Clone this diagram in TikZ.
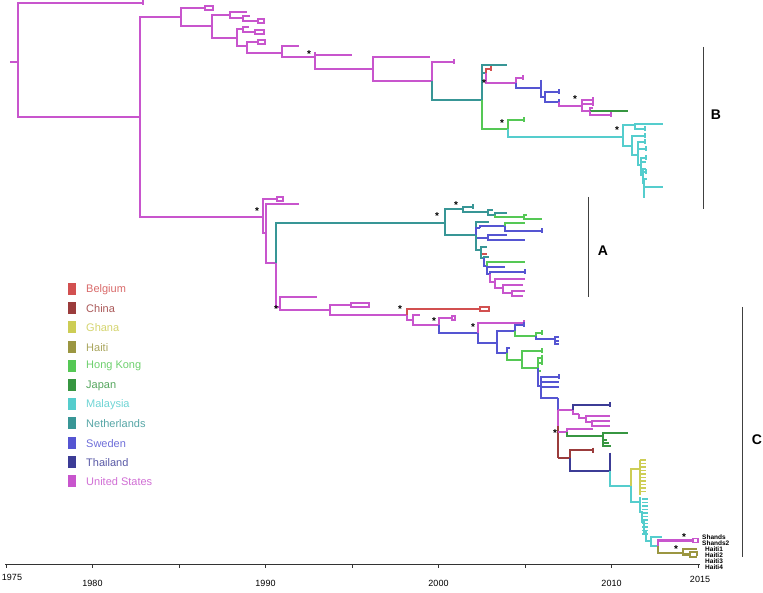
\documentclass[tikz,border=0pt]{standalone}
\usepackage{fontspec}
\setmainfont{Liberation Sans}
\definecolor{cUS}{RGB}{200,85,205}
\definecolor{cNL}{RGB}{56,150,150}
\definecolor{cSW}{RGB}{85,85,210}
\definecolor{cTH}{RGB}{60,60,150}
\definecolor{cHK}{RGB}{85,200,85}
\definecolor{cJP}{RGB}{55,150,65}
\definecolor{cMA}{RGB}{85,205,205}
\definecolor{cGH}{RGB}{205,205,85}
\definecolor{cHA}{RGB}{155,150,65}
\definecolor{cBE}{RGB}{210,80,80}
\definecolor{cCH}{RGB}{155,60,60}
\tikzset{tr/.style={line width=2.1pt},
  tk/.style={line width=1.4pt},
  star/.style={font=\bfseries\fontsize{10}{10}\selectfont,inner sep=0pt},
  bar/.style={line width=1pt,black!75},
  clade/.style={font=\bfseries\fontsize{14}{14}\selectfont,inner sep=0pt},
  lgt/.style={font=\fontsize{11}{13}\selectfont,anchor=west,inner sep=0pt},
  axl/.style={font=\fontsize{9}{10}\selectfont,inner sep=0pt},
  tipl/.style={font=\bfseries\fontsize{6.5}{6.5}\selectfont,anchor=west,inner sep=0pt}}
\newcommand\Br[5]{\draw[tr,#1] (#2,#3) |- (#4,#5);}
\newcommand\Tk[3]{\draw[tk,#1] (#2,#3-2.5) -- (#2,#3+2.5);}
\newcommand\Pair[4]{\draw[tk,#1] (#2,#3-2) rectangle ({#2+#4},#3+2);}
\begin{document}
\begin{tikzpicture}[x=1pt,y=-1pt]
\useasboundingbox (0,0) rectangle (763,593);
% root
\draw[tr,cUS] (10,62)--(18,62);
\Br{cUS}{18}{62}{143}{3} \Tk{cUS}{143}{3}
\Br{cUS}{18}{62}{140}{117}
\Br{cUS}{140}{117}{181}{17}
\Br{cUS}{140}{117}{263}{217}
% clade B
\Br{cUS}{181}{17}{205}{8} \Pair{cUS}{205}{8}{8}
\Br{cUS}{181}{17}{212}{26}
\Br{cUS}{212}{26}{230}{15}
\Br{cUS}{230}{15}{247}{12}
\Br{cUS}{230}{15}{243}{18}
\Br{cUS}{243}{18}{250}{16}
\Br{cUS}{243}{18}{258}{21} \Pair{cUS}{258}{21}{6}
\Br{cUS}{212}{26}{237}{38}
\Br{cUS}{237}{38}{243}{29}
\Br{cUS}{243}{29}{249}{27}
\Br{cUS}{243}{29}{255}{32} \Pair{cUS}{255}{32}{9}
\Br{cUS}{237}{38}{247}{46}
\Br{cUS}{247}{46}{258}{42} \Pair{cUS}{258}{42}{7}
\Br{cUS}{247}{46}{282}{53}
\Br{cUS}{282}{53}{299}{46}
\Br{cUS}{282}{53}{315}{57}
\draw[tr,cUS] (315,52)--(315,57);
\Br{cUS}{315}{57}{352}{55}
\Br{cUS}{315}{57}{373}{69}
\Br{cUS}{373}{69}{430}{57}
\Br{cUS}{373}{69}{432}{81}
\Br{cUS}{432}{81}{454}{62} \Tk{cUS}{454}{62}
\Br{cNL}{432}{81}{482}{100}
\Br{cNL}{482}{100}{507}{65}
\Br{cNL}{482}{100}{486}{73}
\Br{cBE}{486}{73}{491}{69} \Tk{cBE}{491}{69}
\Br{cUS}{486}{73}{516}{83}
\Br{cUS}{516}{83}{523}{78} \Tk{cUS}{523}{78}
\Br{cSW}{516}{83}{541}{88}
\draw[tr,cSW] (541,80)--(541,88);
\Br{cSW}{541}{88}{545}{97}
\Br{cSW}{545}{97}{559}{92} \Tk{cSW}{559}{92}
\Br{cSW}{545}{97}{559}{102} \Tk{cSW}{559}{102}
\Br{cUS}{559}{102}{582}{106}
\Br{cUS}{582}{106}{593}{100} \Tk{cUS}{593}{100}
\Br{cUS}{582}{106}{593}{104} \Tk{cUS}{593}{104}
\Br{cUS}{582}{106}{590}{111}
\Br{cUS}{590}{111}{593}{108}
\Br{cJP}{590}{111}{628}{111}
\Br{cUS}{590}{111}{611}{115} \Tk{cUS}{611}{115}
\Br{cHK}{482}{100}{508}{129}
\Br{cHK}{508}{129}{524}{120} \Tk{cHK}{524}{120}
\Br{cMA}{508}{129}{623}{137}
\Br{cMA}{623}{137}{635}{125}
\Br{cMA}{635}{125}{663}{124}
\Br{cMA}{635}{125}{645}{129} \Tk{cMA}{645}{129}
\Br{cMA}{623}{137}{632}{146}
\Br{cMA}{632}{146}{645}{136} \Tk{cMA}{645}{136}
\Br{cMA}{632}{146}{638}{155}
\Br{cMA}{638}{155}{645}{142} \Tk{cMA}{645}{142}
\Br{cMA}{638}{155}{646}{149} \Tk{cMA}{646}{149}
\Br{cMA}{638}{155}{641}{165}
\Br{cMA}{641}{165}{646}{158} \Tk{cMA}{646}{158}
\Br{cMA}{641}{165}{646}{162}
\Br{cMA}{641}{165}{643}{175}
\Br{cMA}{643}{175}{646}{169}
\Br{cMA}{643}{175}{646}{172} \Tk{cMA}{646}{172}
\Br{cMA}{643}{175}{644}{183}
\Br{cMA}{644}{183}{647}{179}
\Br{cMA}{644}{183}{663}{187}
\Br{cMA}{644}{183}{645}{197}
% clades A and C base
\Br{cUS}{263}{217}{277}{199} \Pair{cUS}{277}{199}{6}
\Br{cUS}{263}{217}{266}{233}
\Br{cUS}{266}{233}{299}{204}
\Br{cUS}{266}{233}{276}{263}
\Br{cNL}{276}{263}{445}{223}
\Br{cUS}{276}{263}{280}{307}
% clade A
\Br{cNL}{445}{223}{463}{209}
\Br{cNL}{463}{209}{473}{207} \Tk{cNL}{473}{207}
\Br{cNL}{463}{209}{488}{212}
\Br{cNL}{488}{212}{493}{210}
\Br{cNL}{488}{212}{495}{215}
\Br{cNL}{495}{215}{507}{213}
\Br{cHK}{495}{215}{524}{217}
\Br{cHK}{524}{217}{527}{215}
\Br{cHK}{524}{217}{542}{219}
\Br{cNL}{445}{223}{476}{235}
\Br{cNL}{476}{235}{489}{222}
\Br{cSW}{476}{235}{480}{228}
\Br{cSW}{480}{228}{505}{226}
\Br{cHK}{505}{226}{525}{223}
\Br{cSW}{505}{226}{542}{231} \Tk{cSW}{542}{231}
\Br{cSW}{476}{235}{488}{238}
\Br{cSW}{488}{238}{507}{235}
\Br{cSW}{488}{238}{525}{240}
\Br{cNL}{476}{235}{481}{250}
\Br{cNL}{481}{250}{487}{247}
\Br{cBE}{481}{250}{487}{254}
\Br{cNL}{481}{250}{484}{258}
\Br{cNL}{484}{258}{489}{257}
\Br{cSW}{484}{258}{487}{266}
\Br{cHK}{487}{266}{525}{262}
\Br{cSW}{487}{266}{505}{267}
\Br{cSW}{487}{266}{490}{274}
\Br{cSW}{490}{274}{525}{272} \Tk{cSW}{525}{272}
\Br{cUS}{490}{274}{495}{282}
\Br{cUS}{495}{282}{525}{279}
\Br{cUS}{495}{282}{503}{288}
\Br{cUS}{503}{288}{523}{285}
\Br{cUS}{503}{288}{512}{293}
\Br{cUS}{512}{293}{525}{291}
\Br{cUS}{512}{293}{523}{296}
% clade C
\Br{cUS}{280}{307}{317}{297}
\Br{cUS}{280}{307}{330}{310}
\Br{cUS}{330}{310}{351}{305} \Pair{cUS}{351}{305}{18}
\Br{cUS}{330}{310}{407}{315}
\Br{cBE}{407}{315}{480}{309} \Pair{cBE}{480}{309}{9}
\Br{cUS}{407}{315}{413}{320}
\Br{cUS}{413}{320}{420}{315}
\Br{cUS}{413}{320}{439}{325}
\Br{cUS}{439}{325}{452}{318} \Pair{cUS}{452}{318}{3}
\Br{cSW}{439}{325}{478}{333}
\Br{cUS}{478}{333}{524}{323} \Tk{cUS}{524}{323}
\Br{cSW}{478}{333}{497}{343}
\Br{cSW}{497}{343}{515}{331}
\Br{cSW}{515}{331}{524}{325} \Tk{cSW}{524}{325}
\Br{cHK}{515}{331}{536}{336}
\Br{cHK}{536}{336}{542}{333} \Tk{cHK}{542}{333}
\Br{cSW}{536}{336}{555}{339}
\Br{cSW}{555}{339}{559}{337}
\Br{cSW}{555}{339}{559}{341}
\Br{cSW}{555}{339}{559}{344}
\Br{cSW}{497}{343}{507}{353}
\Br{cSW}{507}{353}{510}{348}
\Br{cHK}{507}{353}{522}{360}
\Br{cHK}{522}{360}{542}{351} \Tk{cHK}{542}{351}
\Br{cHK}{522}{360}{538}{368}
\Br{cHK}{538}{368}{542}{358} \Tk{cHK}{542}{358}
\Br{cHK}{538}{368}{542}{363} \Tk{cHK}{542}{363}
\Br{cHK}{538}{368}{541}{371}
\Br{cSW}{538}{368}{541}{386}
\Br{cSW}{541}{386}{559}{377} \Tk{cSW}{559}{377}
\Br{cSW}{541}{386}{559}{382}
\Br{cSW}{541}{386}{559}{387}
\Br{cSW}{541}{386}{558}{398}
\draw[tr,cSW] (558,398)--(558,410);
\draw[tr,cUS] (558,410)--(573,410);
\draw[tr,cUS] (558,410)--(558,426);
\draw[tr,cCH] (558,426)--(558,458);
\Br{cTH}{573}{410}{610}{405} \Tk{cTH}{610}{405}
\Br{cUS}{573}{410}{579}{414}
\Br{cUS}{579}{414}{586}{418}
\Br{cUS}{586}{418}{610}{416}
\Br{cUS}{586}{418}{592}{422}
\Br{cUS}{592}{422}{610}{421}
\Br{cUS}{592}{422}{610}{426}
\draw[tr,cUS] (558,432)--(567,432);
\Br{cUS}{567}{432}{593}{429}
\Br{cJP}{567}{432}{603}{436}
\Br{cJP}{603}{436}{628}{433}
\Br{cJP}{603}{436}{607}{440}
\Br{cJP}{603}{436}{609}{443}
\Br{cJP}{603}{436}{611}{446}
\draw[tr,cCH] (558,458)--(570,458);
\Br{cCH}{570}{458}{593}{450} \Tk{cCH}{593}{450}
\Br{cTH}{570}{458}{610}{471}
\draw[tr,cTH] (610,471)--(610,455); \Tk{cTH}{610}{455}
\Br{cMA}{610}{471}{631}{486}
\Br{cGH}{631}{486}{640}{469}
\draw[tr,cGH] (640,460)--(640,495);
\foreach \y in {460,463.5,...,494} {\draw[tk,cGH] (640,\y)--(646,\y);}
\Br{cMA}{631}{486}{640}{502}
\draw[tr,cMA] (640,497)--(640,512)--(642,512)--(642,522)--(644,522)--(644,532)--(646,532)--(646,541)--(651,541);
\foreach \y in {499,502.5,...,535} {\draw[tk,cMA] (642,\y)--(648,\y);}
\Br{cMA}{651}{541}{662}{537}
\Br{cMA}{651}{541}{658}{546}
\Br{cUS}{658}{546}{693}{540.5} \Pair{cUS}{693}{540.5}{5}
\Br{cHA}{658}{546}{683}{553}
\Br{cHA}{683}{553}{697}{549}
\Br{cHA}{683}{553}{690}{554.5}
\Br{cHA}{690}{554.5}{697}{552}
\Br{cHA}{690}{554.5}{697}{557}
\Tk{cHA}{697}{553}
% tip labels
\node[tipl] (s1) at (702,537) {Shands};
\node[tipl] (s2) at (702,543) {Shands2};
\node[tipl] (h1) at (705,549.5) {Haiti1};
\node[tipl] (h2) at (705,555.5) {Haiti2};
\node[tipl] (h3) at (705,561.5) {Haiti3};
\node[tipl] (h4) at (705,567.5) {Haiti4};
% stars
\foreach \p/\q [count=\i] in {309/54,484/83,575/99,502/123,617/130,257/211,437/216,456/205,276/309,400/309,434/321,473/327,555/433,684/537,676/549}
  {\node[star] (st\i) at (\p,\q) {*};}
% clade bars
\draw[bar] (703,47)--(703,209);
\node[clade] (B) at (716,115) {B};
\draw[bar] (588,197)--(588,297);
\node[clade] (A) at (603,251) {A};
\draw[bar] (742,307)--(742,557);
\node[clade] (C) at (757,440) {C};
% legend
\foreach \c/\t [count=\i from 0] in {cBE/Belgium,cCH/China,cGH/Ghana,cHA/Haiti,cHK/Hong Kong,cJP/Japan,cMA/Malaysia,cNL/Netherlands,cSW/Sweden,cTH/Thailand,cUS/United States}
  {\fill[\c] (68,{283+19.2*\i}) rectangle (76,{295+19.2*\i});
   \node[lgt,text=\c!85!white] (lg\i) at (86,{289.5+19.2*\i}) {\t};}
% axis
\draw[line width=0.9pt,black!80] (5,564)--(700,564);
\foreach \x in {6,92.5,179,265.5,352,438.5,525,611.5,698}
  {\draw[line width=0.9pt,black!80] (\x,564)--(\x,568);}
\node[axl] (y75) at (12,577) {1975};
\node[axl] (y80) at (92.5,583) {1980};
\node[axl] (y90) at (265.5,583) {1990};
\node[axl] (y00) at (438.5,583) {2000};
\node[axl] (y10) at (611.5,583) {2010};
\node[axl] (y15) at (700,579) {2015};
\end{tikzpicture}
\end{document}
